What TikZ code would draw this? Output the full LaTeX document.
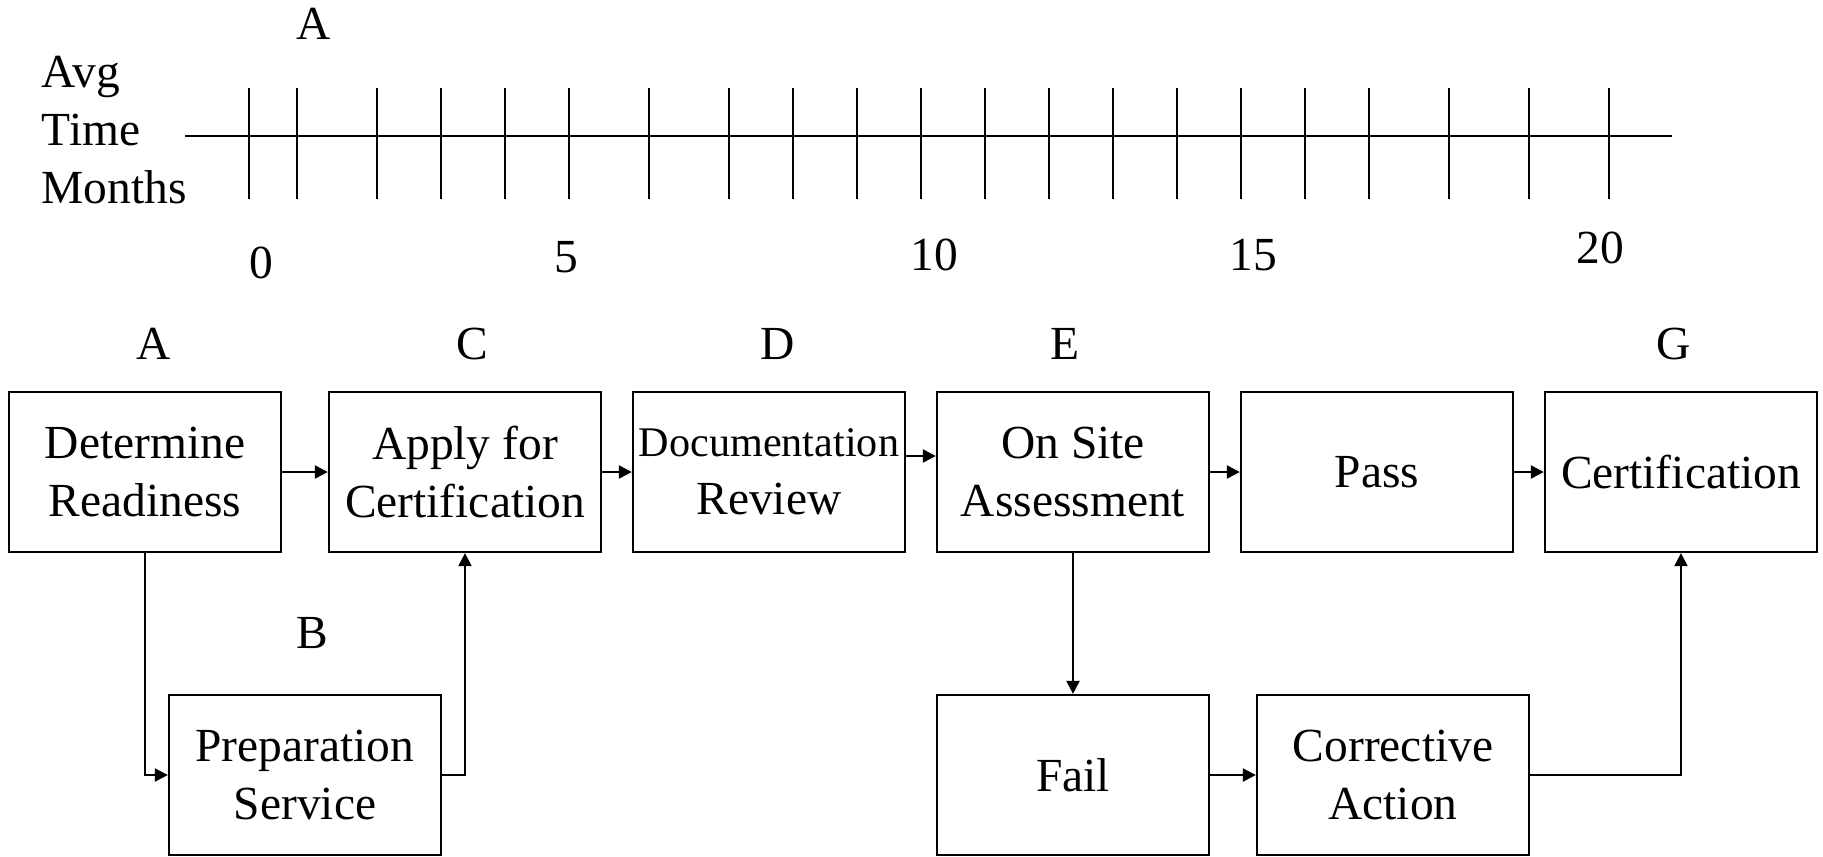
\documentclass[tikz,border=0pt]{standalone}
\usepackage{fontspec}
\setmainfont{Liberation Serif}
\usepackage{tikz}
\usetikzlibrary{arrows.meta}
\tikzset{
  every picture/.style={font={\fontsize{13.5}{16.5}\selectfont}, >={Triangle[length=3.7pt,width=3.7pt]}},
  every node/.style={inner sep=0pt}}

\begin{document}
\begin{tikzpicture}[x=0.01cm, y=-0.01cm,
    stage/.style={
      draw, line width=0.6pt,
      align=center,
      minimum width=2.72cm,
      minimum height=1.6cm},
    flow/.style={->, line width=0.6pt},
    tick/.style={line width=0.45pt}]

    \useasboundingbox (0,0) rectangle (1823,856);

    % time scale
    \node[anchor=west, align=left] (axislabel) at (41,130) {Avg\\Time\\Months};
    \draw[line width=0.7pt] (185,136) -- (1672,136);
    \foreach \tx in {249,297,377,441,505,569,649,729,793,857,921,985,1049,1113,1177,1241,1305,1369,1449,1529,1609}
      \draw[tick] (\tx,88) -- (\tx,199);
    \node (scaleA) at (314,24) {A};
    \node (m0) at (261,263) {0};
    \node (m5) at (566,257) {5};
    \node (m10) at (934,255) {10};
    \node (m15) at (1253,255) {15};
    \node (m20) at (1600,248) {20};

    % steps
    \node[stage] (det) at (145,472) {Determine\\Readiness};
    \node[stage] (apply) at (465,472) {Apply for\\Certification};
    \node[stage] (docrev) at (769,472) {{\fontsize{12}{16.5}\selectfont Documentation}\\Review};
    \node[stage] (onsite) at (1073,472) {On Site\\Assessment};
    \node[stage] (pass) at (1377,472) {Pass};
    \node[stage] (cert) at (1681,472) {Certification};
    \node[stage] (prep) at (305,775) {Preparation\\Service};
    \node[stage] (fail) at (1073,775) {Fail};
    \node[stage] (corr) at (1393,775) {Corrective\\Action};

    % step letters
    \node (lblA) at (154,344) {A};
    \node (lblC) at (472,344) {C};
    \node (lblD) at (778,344) {D};
    \node (lblE) at (1065,344) {E};
    \node (lblG) at (1674,344) {G};
    \node (lblB) at (312,633) {B};

    % connectors
    \draw[flow] (det) -- (apply);
    \draw[flow] (det.south) |- (prep.west);
    \draw[flow] (prep.east) -| (apply.south);
    \draw[flow] (apply) -- (docrev);
    \draw[flow] ([yshift=0.16cm]docrev.east) -- ([yshift=0.16cm]onsite.west);
    \draw[flow] (onsite) -- (pass);
    \draw[flow] (pass) -- (cert);
    \draw[flow] (onsite) -- (fail);
    \draw[flow] (fail) -- (corr);
    \draw[flow] (corr.east) -| (cert.south);
  \end{tikzpicture}
\end{document}
